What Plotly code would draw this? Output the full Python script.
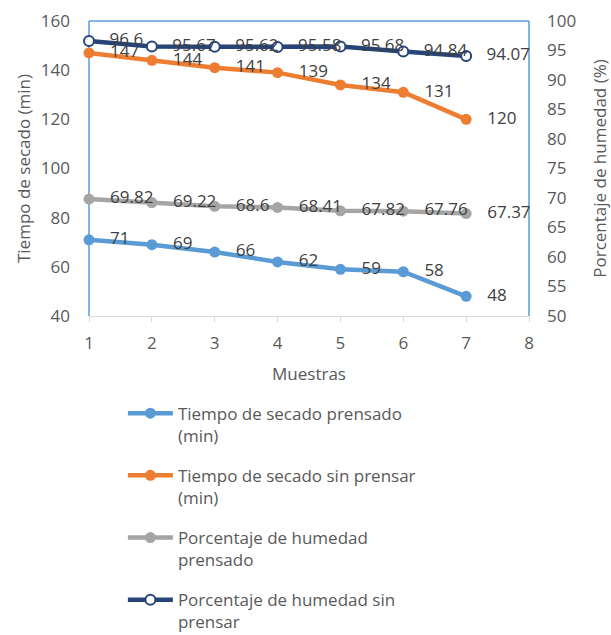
import plotly.graph_objects as go

muestras = [1, 2, 3, 4, 5, 6, 7]
tiempo_prensado = [71, 69, 66, 62, 59, 58, 48]
tiempo_sin_prensar = [147, 144, 141, 139, 134, 131, 120]
humedad_prensado = [69.82, 69.22, 68.6, 68.41, 67.82, 67.76, 67.37]
humedad_sin_prensar = [96.6, 95.67, 95.62, 95.58, 95.68, 94.84, 94.07]

names = ["Tiempo de secado prensado<br>(min)",
         "Tiempo de secado sin prensar<br>(min)",
         "Porcentaje de humedad<br>prensado",
         "Porcentaje de humedad sin<br>prensar"]

FONT = "Open Sans"
TXT = "#404040"
LBL = "#595959"
SZ = 17

def fmt(v):
    s = ("%.2f" % v).rstrip("0").rstrip(".")
    return "\u00a0\u00a0\u00a0" + s

def add(y, name, color, axis, group, open_marker=False):
    if open_marker:
        mk = dict(size=10, color="white", line=dict(color=color, width=2))
    else:
        mk = dict(size=11, color=color)
    fig.add_trace(go.Scatter(x=muestras, y=y, name=name, mode="lines+markers+text",
                             line=dict(color=color, width=4.5), marker=mk,
                             text=[fmt(v) for v in y], textposition="middle right",
                             textfont=dict(size=SZ, color=TXT, family=FONT),
                             yaxis=axis, legendgroup=group, cliponaxis=False))

fig = go.Figure()
add(tiempo_prensado, names[0], "#5B9BD5", "y", "a")
add(tiempo_sin_prensar, names[1], "#ED7D31", "y", "b")
add(humedad_prensado, names[2], "#A5A5A5", "y2", "c")
add(humedad_sin_prensar, names[3], "#264478", "y2", "d", open_marker=True)

fig.update_layout(
    width=611, height=635,
    margin=dict(l=89, r=82, t=21, b=319),
    paper_bgcolor="white", plot_bgcolor="white",
    font=dict(family=FONT, size=SZ, color=LBL),
    showlegend=True,
    legend=dict(xref="paper", yref="container", x=0.077, y=0.377,
                xanchor="left", yanchor="top", orientation="v",
                font=dict(size=SZ, color=LBL, family=FONT), valign="top",
                tracegroupgap=15, itemwidth=45),
    xaxis=dict(range=[1, 8], dtick=1, tick0=1, showgrid=False, zeroline=False,
               showline=True, linecolor="#D9D9D9", linewidth=1,
               ticks="outside", ticklen=5, tickcolor="#D9D9D9", automargin=False,
               tickfont=dict(size=SZ, color=LBL), ticklabelstandoff=7,
               title=dict(text="Muestras", font=dict(size=SZ, color=LBL), standoff=14)),
    yaxis=dict(range=[40, 160], dtick=20, showgrid=False, zeroline=False, automargin=False,
               showline=False, ticks="", tickfont=dict(size=SZ, color=LBL), ticklabelstandoff=18,
               title=dict(text="Tiempo de secado (min)", font=dict(size=SZ, color=LBL), standoff=5)),
    yaxis2=dict(range=[50, 100], dtick=5, overlaying="y", side="right", showgrid=False, automargin=False,
                zeroline=False, showline=False, ticks="", tickfont=dict(size=SZ, color=LBL),
                ticklabelstandoff=17,
                title=dict(text="Porcentaje de humedad (%)", font=dict(size=SZ, color=LBL), standoff=20)),
    shapes=[
        dict(type="line", xref="paper", yref="paper", x0=0, x1=0, y0=0, y1=1,
             line=dict(color="#5B9BD5", width=1.5), layer="below"),
        dict(type="line", xref="paper", yref="paper", x0=1, x1=1, y0=0, y1=1,
             line=dict(color="#5B9BD5", width=1.5), layer="below"),
        dict(type="line", xref="paper", yref="paper", x0=0, x1=1, y0=1, y1=1,
             line=dict(color="#5B9BD5", width=1.5), layer="below"),
    ],
)

fig.write_html("out.html", config={"displayModeBar": False},
               post_script="document.body.style.margin='0';document.body.style.overflow='hidden';")
